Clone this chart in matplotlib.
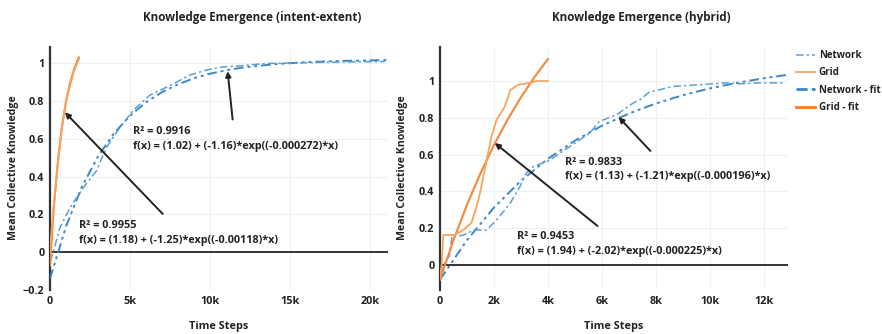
import matplotlib
matplotlib.use("Agg")
import matplotlib.pyplot as plt
from matplotlib.lines import Line2D

plt.rcParams['font.family'] = ['Open Sans', 'DejaVu Sans']

# ---------------- data ----------------
# Left panel: intent-extent
L_net_x = [0, 200, 620, 1250, 2070, 2900, 3530, 4360, 5200, 6230, 7700, 8700, 9760, 10800, 11800,
           13500, 15000, 16500, 18000, 19500, 20900]
L_net_y = [-0.05, 0.0, 0.13, 0.235, 0.34, 0.43, 0.555, 0.66, 0.75, 0.83, 0.89, 0.936, 0.963, 0.98, 0.985,
           0.998, 1.0, 1.003, 1.005, 1.007, 1.008]
L_grid_x = [0, 100, 250, 500, 750, 1000, 1250, 1500, 1800]
L_grid_y = [0.0, 0.12, 0.26, 0.47, 0.67, 0.80, 0.88, 0.96, 1.02]
L_netfit_x = [0, 1000, 2000, 3000, 4000, 5000, 6000, 7000, 8000, 9000, 10000, 11000, 12000,
              14000, 16000, 18000, 21000]
L_netfit_y = [-0.14, 0.136, 0.347, 0.507, 0.629, 0.722, 0.793, 0.847, 0.888, 0.920, 0.944, 0.962, 0.976,
              0.994, 1.005, 1.011, 1.016]
L_gridfit_x = [0, 250, 500, 750, 1000, 1250, 1500, 1750, 1800]
L_gridfit_y = [-0.07, 0.249, 0.487, 0.664, 0.796, 0.894, 0.967, 1.0215, 1.03]

# Right panel: hybrid
R_net_x = [0, 200, 350, 450, 800, 1000, 1230, 1730, 2100, 2600, 2960, 3200, 3450, 4070, 4800, 5550,
           5900, 6040, 6530, 7150, 7400, 7760, 8070, 8600, 9600, 10600, 11100, 11800, 12800]
R_net_y = [-0.05, 0.02, 0.05, 0.16, 0.16, 0.17, 0.19, 0.19, 0.245, 0.335, 0.425, 0.50, 0.534, 0.57, 0.643,
           0.716, 0.78, 0.788, 0.815, 0.879, 0.897, 0.94, 0.95, 0.97, 0.98, 0.99, 0.985, 0.99, 0.99]
R_grid_x = [0, 60, 120, 550, 860, 1170, 1360, 1480, 1660, 1910, 2100, 2400, 2600, 2900, 3300, 3600, 4000]
R_grid_y = [-0.07, 0.0, 0.163, 0.163, 0.19, 0.23, 0.32, 0.39, 0.52, 0.70, 0.79, 0.86, 0.95, 0.98, 0.99,
            1.0, 1.0]
R_netfit_x = [0, 1000, 2000, 3000, 4000, 5000, 6000, 7000, 8000, 9000, 10000, 11000, 12000, 12900]
R_netfit_y = [-0.08, 0.135, 0.312, 0.458, 0.5775, 0.676, 0.757, 0.823, 0.878, 0.923, 0.960, 0.990,
              1.015, 1.034]
R_gridfit_x = [0, 500, 1000, 1500, 2000, 2500, 3000, 3500, 4000]
R_gridfit_y = [-0.08, 0.135, 0.327, 0.4985, 0.652, 0.789, 0.911, 1.021, 1.119]

L_xticks = [0, 5000, 10000, 15000, 20000]
L_xlabels = ['0', '5k', '10k', '15k', '20k']
L_yticks = [-0.2, 0, 0.2, 0.4, 0.6, 0.8, 1]
L_ylabels = ['\u22120.2', '0', '0.2', '0.4', '0.6', '0.8', '1']
R_xticks = [0, 2000, 4000, 6000, 8000, 10000, 12000]
R_xlabels = ['0', '2k', '4k', '6k', '8k', '10k', '12k']
R_yticks = [0, 0.2, 0.4, 0.6, 0.8, 1]
R_ylabels = ['0', '0.2', '0.4', '0.6', '0.8', '1']

titles = ['Knowledge Emergence (intent-extent)', 'Knowledge Emergence (hybrid)']
x_title = 'Time Steps'
y_title = 'Mean Collective Knowledge'
series_names = ['Network', 'Grid', 'Network - fit', 'Grid - fit']

# annotations: (text, arrow head x, y, arrow tail x, y, text x, y)
L_ann = [('R\u00b2 = 0.9916\nf(x) = (1.02) + (-1.16)*exp((-0.000272)*x)', 11090, 0.957, 11400, 0.702, 5170, 0.60),
         ('R\u00b2 = 0.9955\nf(x) = (1.18) + (-1.25)*exp((-0.00118)*x)', 930, 0.74, 7040, 0.202, 1810, 0.10)]
R_ann = [('R\u00b2 = 0.9833\nf(x) = (1.13) + (-1.21)*exp((-0.000196)*x)', 6620, 0.804, 7800, 0.62, 4620, 0.519),
         ('R\u00b2 = 0.9453\nf(x) = (1.94) + (-2.02)*exp((-0.000225)*x)', 2030, 0.663, 5840, 0.212, 2850, 0.114)]

# ---------------- styling ----------------
C_NET = '#5b9fd4'
C_NETFIT = '#3b88c8'
C_GRID = '#f7a45f'
C_GRIDFIT = '#f4873a'
TXT = '#222222'
FW = 'bold'

fig = plt.figure(figsize=(8.82, 3.34), dpi=100)
W, H = 882, 334


def px_axes(x0, x1, y0, y1):
    return fig.add_axes([x0 / W, 1 - y1 / H, (x1 - x0) / W, (y1 - y0) / H])


axL = px_axes(50, 388, 47, 290)
axR = px_axes(440, 788, 47, 290)

panels = [
    (axL, L_net_x, L_net_y, L_grid_x, L_grid_y, L_netfit_x, L_netfit_y, L_gridfit_x, L_gridfit_y,
     (0, 21100), (-0.2, 1.085), L_xticks, L_xlabels, L_yticks, L_ylabels, L_ann),
    (axR, R_net_x, R_net_y, R_grid_x, R_grid_y, R_netfit_x, R_netfit_y, R_gridfit_x, R_gridfit_y,
     (0, 12900), (-0.136, 1.185), R_xticks, R_xlabels, R_yticks, R_ylabels, R_ann),
]

for (ax, nx, ny, gx, gy, nfx, nfy, gfx, gfy, xl, yl, xt, xtl, yt, ytl, anns) in panels:
    ax.set_xlim(*xl)
    ax.set_ylim(*yl)
    for s in ax.spines.values():
        s.set_visible(False)
    ax.spines['left'].set_visible(True)
    ax.spines['left'].set_color('#333333')
    ax.spines['left'].set_linewidth(1.6)
    ax.axhline(0, color='#333333', lw=1.4, zorder=1)
    ax.grid(True, color='#f0f0f0', lw=0.8, zorder=0)
    ax.set_axisbelow(True)
    ax.set_xticks(xt)
    ax.set_xticklabels(xtl)
    ax.set_yticks(yt)
    ax.set_yticklabels(ytl)
    ax.tick_params(length=0, labelsize=7.8, colors=TXT, pad=4)
    for lab in ax.get_xticklabels() + ax.get_yticklabels():
        lab.set_fontweight(FW)

    ax.plot(nfx, nfy, color=C_NETFIT, lw=1.4, dashes=(5, 2, 1.5, 2, 1.5, 2), zorder=3)
    ax.plot(nx, ny, color=C_NET, lw=1.1, dashes=(5, 2, 1.5, 2), zorder=3)
    ax.plot(gfx, gfy, color=C_GRIDFIT, lw=1.5, zorder=4)
    ax.plot(gx, gy, color=C_GRID, lw=1.3, zorder=4)

    for (t, hx, hy, tx, ty, lx, ly) in anns:
        ax.annotate('', xy=(hx, hy), xytext=(tx, ty),
                    arrowprops=dict(arrowstyle='-|>', color='#222222', lw=1.4,
                                    mutation_scale=8, shrinkA=0, shrinkB=0), zorder=6)
        ax.text(lx, ly, t, fontsize=7.8, fontweight=FW, color=TXT, ha='left', va='center',
                linespacing=1.45, zorder=7)

for cx in (219, 614):
    fig.text(cx / W, 1 - 326 / H, x_title, ha='center', va='center', fontsize=7.8,
             fontweight=FW, color=TXT)
for cx in (14, 403):
    fig.text(cx / W, 1 - 168 / H, y_title, ha='center', va='center', rotation=90, fontsize=7.6,
             fontweight=FW, color=TXT)

fig.text(252 / W, 1 - 17 / H, titles[0], ha='center', va='center', fontsize=8.4,
         fontweight=FW, color=TXT)
fig.text(641 / W, 1 - 17 / H, titles[1], ha='center', va='center', fontsize=8.4,
         fontweight=FW, color=TXT)

handles = [
    Line2D([], [], color=C_NET, lw=1.1, dashes=(5, 2, 1.5, 2)),
    Line2D([], [], color=C_GRID, lw=1.3),
    Line2D([], [], color=C_NETFIT, lw=2.0, dashes=(4, 1.5, 1.5, 1.5, 1.5, 1.5)),
    Line2D([], [], color=C_GRIDFIT, lw=2.2),
]
leg = fig.legend(handles, series_names, loc='upper left', bbox_to_anchor=(796 / W, 1 - 50 / H),
                 frameon=False, fontsize=7.0, handlelength=2.0, handletextpad=0.35, labelspacing=0.65,
                 borderaxespad=0, borderpad=0)
for t in leg.get_texts():
    t.set_fontweight(FW)
    t.set_color(TXT)

fig.savefig('out.png', dpi=100)
